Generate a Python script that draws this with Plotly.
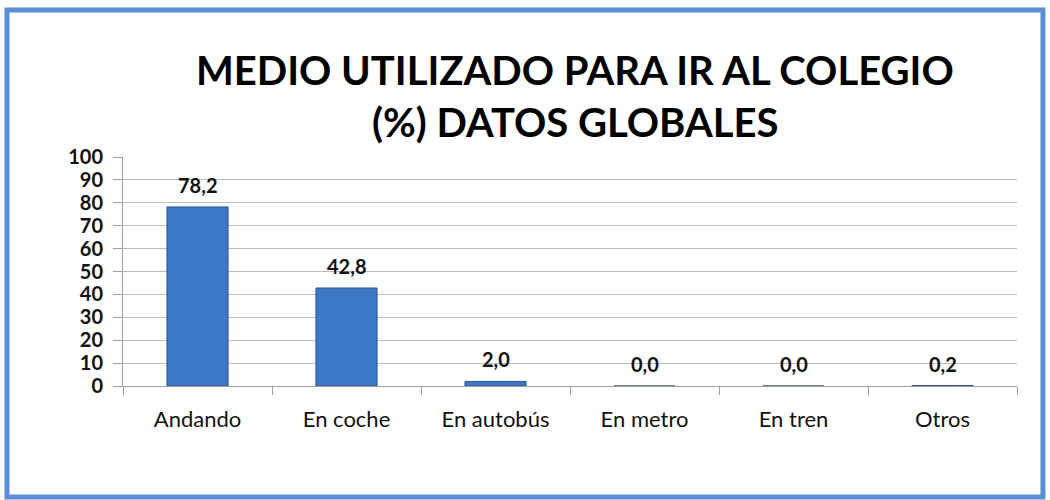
import plotly.graph_objects as go

categorias = ['Andando', 'En coche', 'En autobús', 'En metro', 'En tren', 'Otros']
porcentajes = [78.2, 42.8, 2.0, 0.0, 0.0, 0.2]
etiquetas = [f'{v:.1f}'.replace('.', ',') for v in porcentajes]
ticks_y = list(range(0, 101, 10))

FUENTE = 'Lato'

fig = go.Figure()

fig.add_trace(go.Bar(
    x=categorias,
    y=porcentajes,
    marker=dict(color='#3d78c6', line=dict(color='#2a5590', width=1)),
    hoverinfo='x+y',
    showlegend=False,
))

# etiquetas de datos encima de cada barra
for c, v, t in zip(categorias, porcentajes, etiquetas):
    fig.add_annotation(x=c, y=v, text=t, showarrow=False, yshift=22,
                       font=dict(family=FUENTE, size=20, color='#111', weight='bold'))

# titulo en dos lineas
fig.add_annotation(x=0.5056, y=1.38, xref='paper', yref='paper', yanchor='middle',
                   text='MEDIO UTILIZADO PARA IR AL COLEGIO', showarrow=False,
                   font=dict(family=FUENTE, size=40, color='#000', weight='bold'))
fig.add_annotation(x=0.5056, y=1.152, xref='paper', yref='paper', yanchor='middle',
                   text='(%) DATOS GLOBALES', showarrow=False,
                   font=dict(family=FUENTE, size=40, color='#000', weight='bold'))

# marco azul
fig.add_shape(type='rect', xref='paper', yref='paper',
              x0=-0.1298, x1=1.029, y0=-0.485, y1=1.642,
              line=dict(color='#5a8fd8', width=5), layer='below')

fig.update_yaxes(
    range=[0, 100], tickvals=ticks_y,
    showgrid=True, gridcolor='#bdbdbd', gridwidth=1,
    showline=True, linecolor='#9e9e9e', linewidth=1,
    ticks='outside', ticklen=9, tickcolor='#9e9e9e',
    tickfont=dict(family=FUENTE, size=20, color='#111', weight='bold'),
    ticklabelstandoff=6,
    zeroline=False, fixedrange=True,
)
fig.update_xaxes(
    showline=True, linecolor='#9e9e9e', linewidth=1,
    ticks='outside', ticklen=8, tickcolor='#9e9e9e', tickson='boundaries',
    tickfont=dict(family=FUENTE, size=22, color='#111'),
    ticklabelstandoff=14, fixedrange=True,
)

fig.update_layout(
    width=1050, height=500,
    margin=dict(l=123, r=33, t=157, b=114),
    bargap=0.59,
    plot_bgcolor='white', paper_bgcolor='white',
)

# quitar el margen por defecto del body
fig.write_html('out.html', config={'displayModeBar': False},
               post_script="document.body.style.margin='0';")
